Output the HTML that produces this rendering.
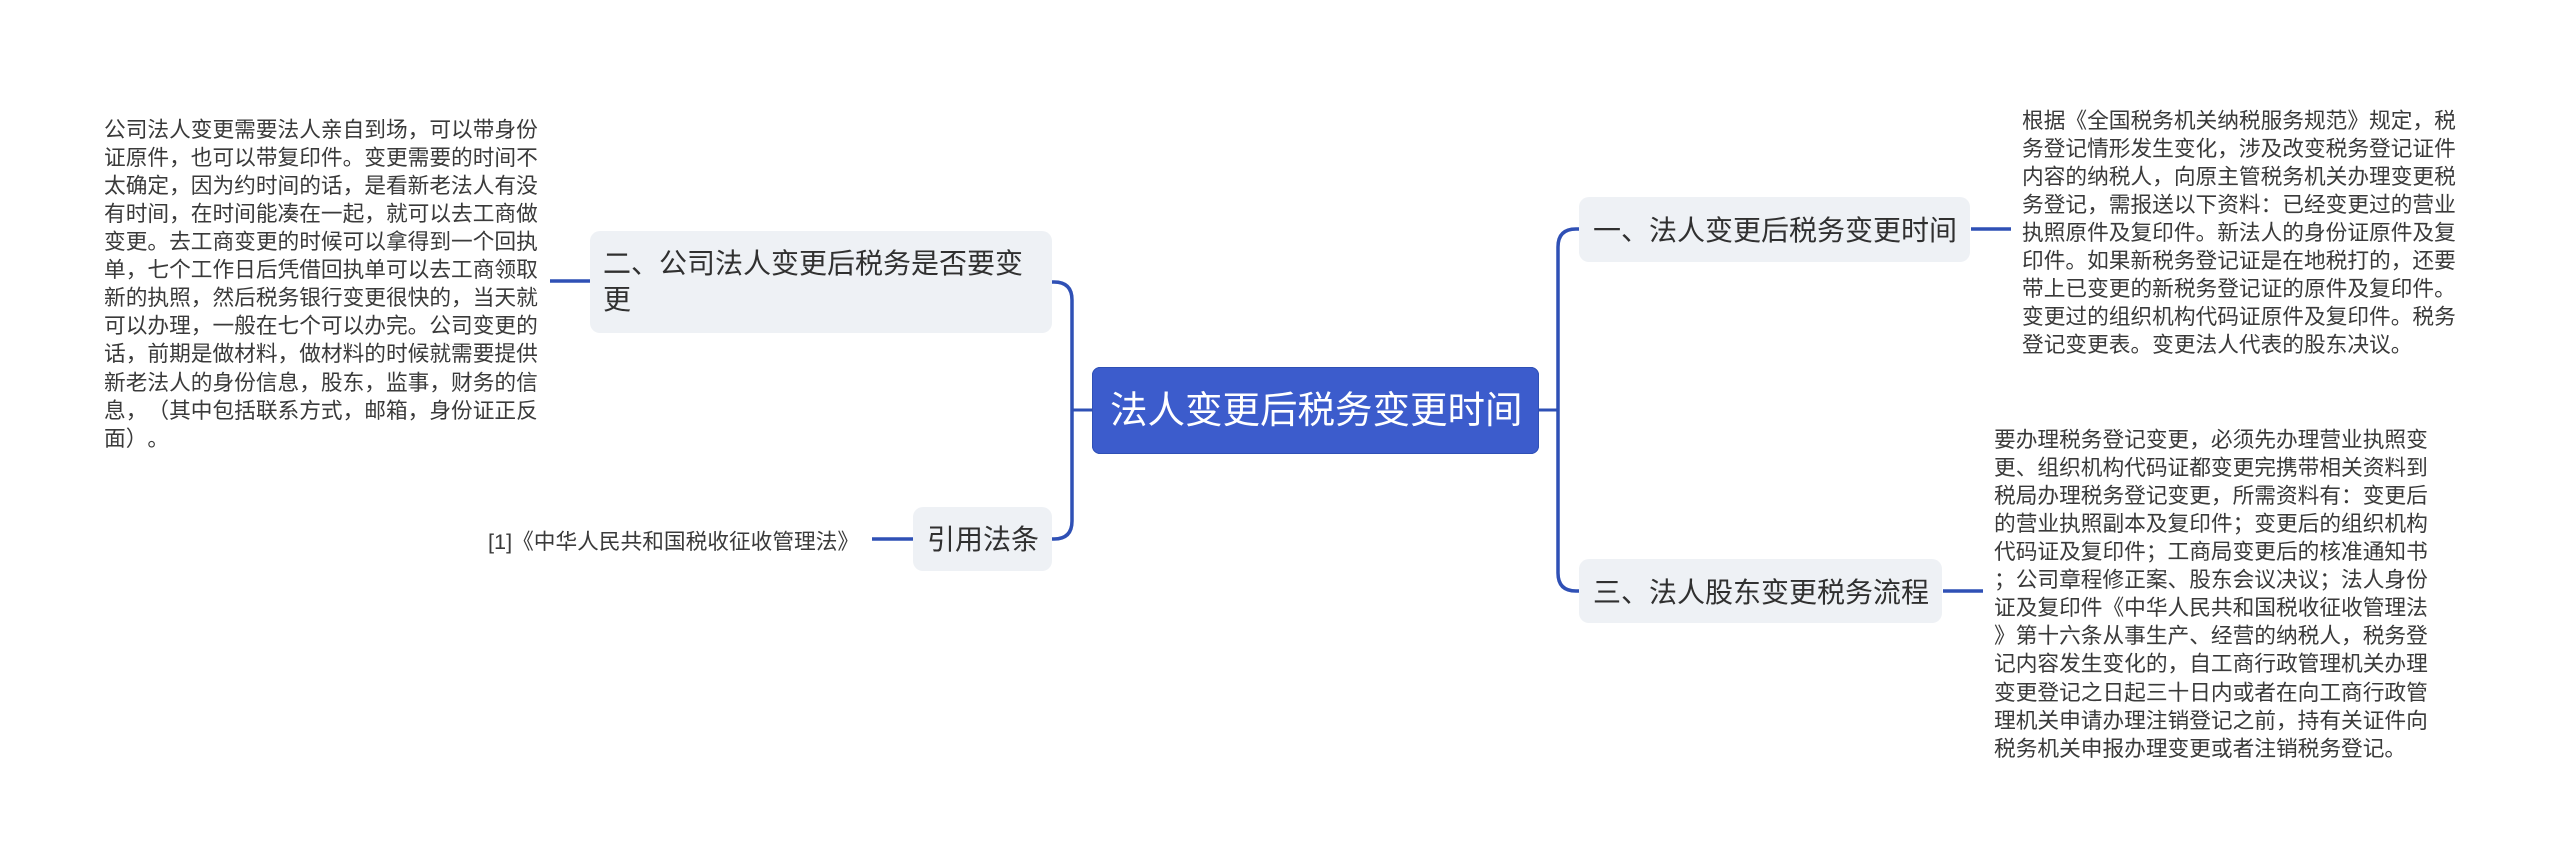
<!DOCTYPE html>
<html lang="zh-CN">
<head>
<meta charset="utf-8">
<title>法人变更后税务变更时间</title>
<style>
html,body{margin:0;padding:0;background:#fff;}
#c{position:relative;width:2560px;height:863px;overflow:hidden;background:#fff;font-family:"Liberation Sans","Noto Sans CJK SC",sans-serif;text-spacing-trim:space-all;font-feature-settings:"palt" 0,"chws" 0,"halt" 0;font-kerning:none;}
svg{position:absolute;left:0;top:0;}
.n{position:absolute;background:#eef1f5;border-radius:10px;}
.r{position:absolute;left:1092px;top:367px;width:447px;height:87px;background:#3c5ccc;border-radius:8px;box-shadow:inset 0 0 0 1px #2f50b5;}
.t{position:absolute;white-space:nowrap;}
.s{font-size:21.7px;line-height:28px;height:28px;color:#3a3a3a;margin-top:1.5px;}
.m{font-size:28px;line-height:38px;height:38px;color:#303030;margin-top:1px;}
.h{font-size:37.5px;line-height:50px;height:50px;color:#fff;}
</style>
</head>
<body>
<div id="c">
<svg width="2560" height="863" viewBox="0 0 2560 863" fill="none" stroke="#2f50b5">
  <path stroke-width="3.5" d="M1052 282H1054Q1072 282 1072 300V521Q1072 539 1054 539H1052"/>
  <path stroke-width="3" d="M1072 410H1092"/>
  <path stroke-width="3.5" d="M550 281H590"/>
  <path stroke-width="3.5" d="M872 539H913"/>
  <path stroke-width="3" d="M1539 410H1558"/>
  <path stroke-width="3.5" d="M1579 229H1576Q1558 229 1558 247V573Q1558 591 1576 591H1579"/>
  <path stroke-width="3.5" d="M1971 229H2011"/>
  <path stroke-width="3.5" d="M1943 591H1983"/>
</svg>

<div class="r"></div>
<div class="t h" style="left:1110px;top:385px;">法人变更后税务变更时间</div>

<div class="n" style="left:590px;top:231px;width:462px;height:102px;"></div>
<div class="t m" style="left:603px;top:244px;">二、公司法人变更后税务是否要变</div>
<div class="t m" style="left:603px;top:280px;">更</div>

<div class="n" style="left:913px;top:507px;width:139px;height:64px;"></div>
<div class="t m" style="left:927px;top:520px;">引用法条</div>

<div class="n" style="left:1579px;top:197px;width:391px;height:65px;"></div>
<div class="t m" style="left:1593px;top:211px;">一、法人变更后税务变更时间</div>

<div class="n" style="left:1579px;top:559px;width:363px;height:64px;"></div>
<div class="t m" style="left:1593px;top:573px;">三、法人股东变更税务流程</div>

<div class="t s" style="left:488px;top:526px;">[1]《中华人民共和国税收征收管理法》</div>

<div class="t s" style="left:104px;top:114px;">公司法人变更需要法人亲自到场，可以带身份</div>
<div class="t s" style="left:104px;top:142px;">证原件，也可以带复印件。变更需要的时间不</div>
<div class="t s" style="left:104px;top:170px;">太确定，因为约时间的话，是看新老法人有没</div>
<div class="t s" style="left:104px;top:198px;">有时间，在时间能凑在一起，就可以去工商做</div>
<div class="t s" style="left:104px;top:226px;">变更。去工商变更的时候可以拿得到一个回执</div>
<div class="t s" style="left:104px;top:254px;">单，七个工作日后凭借回执单可以去工商领取</div>
<div class="t s" style="left:104px;top:282px;">新的执照，然后税务银行变更很快的，当天就</div>
<div class="t s" style="left:104px;top:310px;">可以办理，一般在七个可以办完。公司变更的</div>
<div class="t s" style="left:104px;top:338px;">话，前期是做材料，做材料的时候就需要提供</div>
<div class="t s" style="left:104px;top:367px;">新老法人的身份信息，股东，监事，财务的信</div>
<div class="t s" style="left:104px;top:395px;">息，（其中包括联系方式，邮箱，身份证正反</div>
<div class="t s" style="left:104px;top:423px;">面）。</div>

<div class="t s" style="left:2022px;top:105px;">根据《全国税务机关纳税服务规范》规定，税</div>
<div class="t s" style="left:2022px;top:133px;">务登记情形发生变化，涉及改变税务登记证件</div>
<div class="t s" style="left:2022px;top:161px;">内容的纳税人，向原主管税务机关办理变更税</div>
<div class="t s" style="left:2022px;top:189px;">务登记，需报送以下资料：已经变更过的营业</div>
<div class="t s" style="left:2022px;top:217px;">执照原件及复印件。新法人的身份证原件及复</div>
<div class="t s" style="left:2022px;top:245px;">印件。如果新税务登记证是在地税打的，还要</div>
<div class="t s" style="left:2022px;top:273px;">带上已变更的新税务登记证的原件及复印件。</div>
<div class="t s" style="left:2022px;top:301px;">变更过的组织机构代码证原件及复印件。税务</div>
<div class="t s" style="left:2022px;top:329px;">登记变更表。变更法人代表的股东决议。</div>

<div class="t s" style="left:1994px;top:424px;">要办理税务登记变更，必须先办理营业执照变</div>
<div class="t s" style="left:1994px;top:452px;">更、组织机构代码证都变更完携带相关资料到</div>
<div class="t s" style="left:1994px;top:480px;">税局办理税务登记变更，所需资料有：变更后</div>
<div class="t s" style="left:1994px;top:508px;">的营业执照副本及复印件；变更后的组织机构</div>
<div class="t s" style="left:1994px;top:536px;">代码证及复印件；工商局变更后的核准通知书</div>
<div class="t s" style="left:1994px;top:564px;">；公司章程修正案、股东会议决议；法人身份</div>
<div class="t s" style="left:1994px;top:592px;">证及复印件《中华人民共和国税收征收管理法</div>
<div class="t s" style="left:1994px;top:620px;">》第十六条从事生产、经营的纳税人，税务登</div>
<div class="t s" style="left:1994px;top:648px;">记内容发生变化的，自工商行政管理机关办理</div>
<div class="t s" style="left:1994px;top:677px;">变更登记之日起三十日内或者在向工商行政管</div>
<div class="t s" style="left:1994px;top:705px;">理机关申请办理注销登记之前，持有关证件向</div>
<div class="t s" style="left:1994px;top:733px;">税务机关申报办理变更或者注销税务登记。</div>
</div>
</body>
</html>
